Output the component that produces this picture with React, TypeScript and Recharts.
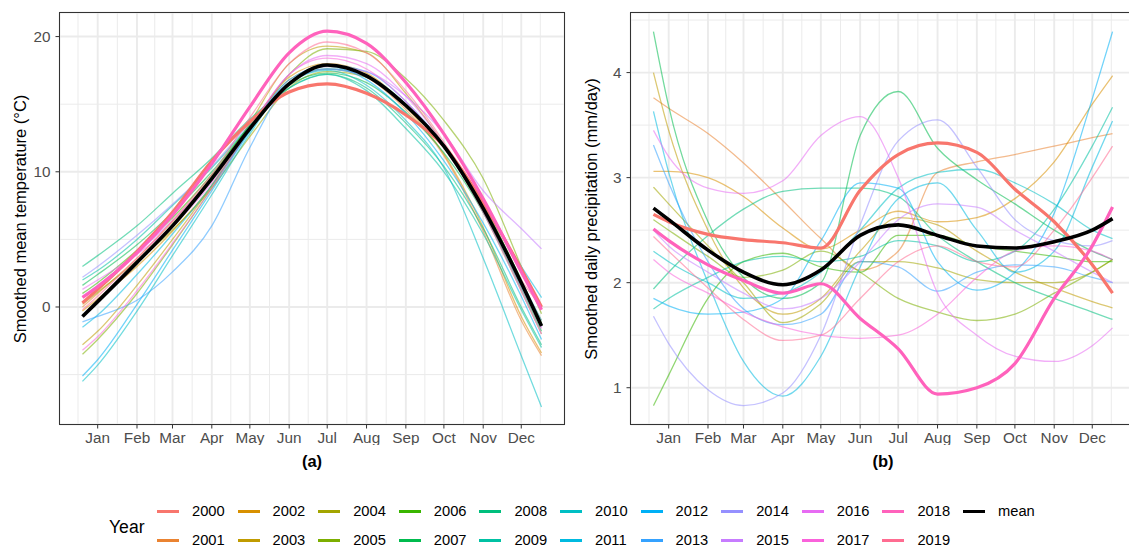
import { LineChart, Line, XAxis, YAxis, CartesianGrid } from 'recharts';

const FONT = '"Liberation Sans", Arial, Helvetica, sans-serif';

// day of year where the smoothed curves are read
const days = [3, 15, 46, 74, 105, 135, 166, 196, 227, 258, 288, 319, 349, 365];
const monthDays = [15, 46, 74, 105, 135, 166, 196, 227, 258, 288, 319, 349];
const monthNames = ['Jan', 'Feb', 'Mar', 'Apr', 'May', 'Jun', 'Jul', 'Aug', 'Sep', 'Oct', 'Nov', 'Dec'];
const minorDays = [-0.5, 30.5, 60, 89.5, 120, 150.5, 181, 211.5, 242.5, 273, 303.5, 334, 364];

const years = [
  '2000', '2001', '2002', '2003', '2004', '2005', '2006', '2007', '2008', '2009',
  '2010', '2011', '2012', '2013', '2014', '2015', '2016', '2017', '2018', '2019',
];
const yearColors = [
  '#F8766D', '#EA8331', '#D89000', '#C09B00', '#A3A500', '#7CAE00', '#39B600', '#00BB4E', '#00BF7D', '#00C1A3',
  '#00BFC4', '#00BAE0', '#00B0F6', '#35A2FF', '#9590FF', '#C77CFF', '#E76BF3', '#FA62DB', '#FF62BC', '#FF6C91',
];
const thickYears = ['2000', '2018'];

const tempTicks = [0, 10, 20];
const tempMinor = [-5, 5, 15];
const precTicks = [1, 2, 3, 4];
const precMinor = [1.5, 2.5, 3.5, 4.5];

// (a) smoothed mean temperature
const t2000 = [0.3, 1.3, 4.1, 7.0, 10.8, 13.7, 15.9, 16.5, 15.8, 14.2, 11.9, 7.7, 2.8, 0.0];
const t2001 = [0.0, 1.0, 3.6, 6.3, 9.6, 13.5, 16.8, 17.8, 17.0, 14.6, 11.2, 5.6, -1.0, -3.6];
const t2002 = [-0.3, 0.6, 3.0, 5.6, 9.0, 13.2, 17.0, 18.0, 17.3, 14.8, 11.3, 5.9, -0.7, -3.4];
const t2003 = [-2.8, -1.8, 1.6, 5.0, 9.0, 13.6, 18.0, 19.3, 18.8, 15.8, 12.0, 7.0, 1.2, -2.0];
const t2004 = [0.2, 1.1, 3.4, 5.7, 8.8, 12.6, 16.2, 17.4, 17.0, 15.0, 11.8, 7.3, 1.8, -1.0];
const t2005 = [-3.5, -2.4, 1.0, 4.6, 8.8, 13.2, 17.2, 19.1, 18.9, 16.9, 13.8, 9.5, 3.0, -0.5];
const t2006 = [1.0, 1.8, 4.2, 6.6, 9.8, 13.4, 16.6, 17.6, 17.0, 15.0, 12.0, 7.6, 2.0, -1.2];
const t2007 = [1.6, 2.4, 4.6, 7.0, 10.0, 13.4, 16.4, 17.3, 16.6, 14.4, 11.4, 7.0, 1.4, -1.8];
const t2008 = [3.0, 3.8, 6.0, 8.4, 11.0, 13.9, 16.2, 17.2, 16.2, 13.6, 10.4, 5.8, 0.0, -2.8];
const t2009 = [2.0, 2.7, 5.0, 7.5, 10.3, 13.4, 16.2, 17.2, 16.0, 13.2, 10.0, 5.4, -0.2, -3.0];
const t2010 = [-5.5, -4.3, -0.3, 3.8, 8.3, 12.8, 16.6, 17.5, 16.4, 13.8, 10.3, 3.6, -3.6, -7.4];
const t2011 = [-1.5, -0.6, 2.4, 5.4, 9.0, 13.0, 16.6, 17.6, 17.1, 15.0, 12.0, 7.6, 3.0, 0.7];
const t2012 = [-5.1, -3.9, 0.2, 4.2, 8.6, 13.0, 16.8, 17.8, 16.8, 14.3, 10.8, 6.2, 0.8, -2.4];
const t2013 = [-1.1, -0.7, 0.5, 2.6, 6.0, 11.8, 16.6, 17.9, 17.4, 15.2, 11.9, 7.3, 1.9, -1.0];
const t2014 = [2.2, 3.0, 5.3, 7.6, 10.4, 13.6, 16.6, 17.6, 17.0, 15.0, 12.0, 7.4, 1.5, -1.5];
const t2015 = [0.8, 1.6, 4.0, 6.4, 9.5, 13.2, 16.6, 17.8, 17.4, 15.6, 12.8, 8.6, 5.8, 4.3];
const t2016 = [1.3, 2.0, 3.9, 6.0, 9.2, 13.3, 17.2, 18.6, 18.0, 15.6, 12.0, 7.0, 1.2, -2.0];
const t2017 = [-3.2, -2.2, 1.2, 4.7, 8.8, 13.2, 17.2, 18.4, 17.6, 15.2, 11.8, 7.2, 1.6, -1.6];
const t2018 = [0.7, 1.5, 4.0, 6.8, 10.6, 14.8, 18.8, 20.4, 19.5, 16.6, 12.8, 8.0, 2.6, -0.2];
const t2019 = [-0.2, 0.8, 3.6, 6.4, 9.8, 14.0, 18.0, 19.6, 18.8, 16.0, 12.2, 7.4, 2.0, 0.0];
const tMean = [-0.7, 0.4, 3.3, 6.0, 9.5, 13.2, 16.5, 17.9, 17.1, 14.9, 11.9, 7.3, 1.8, -1.4];

// (b) smoothed daily precipitation
const p2000 = [2.65, 2.58, 2.46, 2.41, 2.38, 2.33, 2.88, 3.22, 3.33, 3.24, 2.89, 2.58, 2.17, 1.9];
const p2001 = [3.76, 3.66, 3.42, 3.14, 2.78, 2.42, 2.12, 2.3, 3.05, 3.15, 3.22, 3.3, 3.38, 3.42];
const p2002 = [3.06, 3.06, 3.0, 2.82, 2.52, 2.32, 2.5, 2.68, 2.58, 2.62, 2.8, 3.15, 3.7, 3.97];
const p2003 = [4.0, 3.45, 2.5, 1.95, 1.7, 1.85, 2.3, 2.62, 2.55, 2.3, 2.1, 1.95, 1.82, 1.76];
const p2004 = [2.91, 2.75, 2.35, 2.0, 1.62, 1.8, 2.2, 2.2, 2.14, 2.03, 2.0, 2.0, 2.1, 2.22];
const p2005 = [2.6, 2.5, 2.25, 2.05, 2.12, 2.3, 2.1, 1.85, 1.72, 1.64, 1.7, 1.9, 2.1, 2.22];
const p2006 = [0.83, 1.12, 1.85, 2.2, 2.28, 2.15, 2.1, 2.45, 2.45, 2.35, 2.3, 2.25, 2.2, 2.2];
const p2007 = [4.39, 3.68, 2.58, 2.05, 1.85, 2.0, 3.4, 3.82, 3.28, 2.98, 2.75, 2.5, 2.3, 2.22];
const p2008 = [1.94, 2.1, 2.45, 2.7, 2.87, 2.9, 2.9, 2.82, 2.45, 2.2, 2.0, 1.85, 1.72, 1.65];
const p2009 = [1.75, 1.85, 2.05, 2.2, 2.25, 2.2, 2.25, 2.4, 2.35, 2.2, 2.3, 2.7, 3.3, 3.67];
const p2010 = [2.3, 2.2, 2.0, 1.85, 1.9, 2.1, 2.5, 2.9, 3.05, 3.08, 2.95, 2.75, 2.5, 2.42];
const p2011 = [3.63, 3.05, 2.0, 1.25, 0.92, 1.3, 2.15, 2.8, 2.95, 2.5, 2.1, 2.3, 3.1, 3.54];
const p2012 = [1.85, 1.78, 1.7, 1.72, 1.85, 2.4, 2.95, 2.9, 2.2, 1.93, 2.1, 2.66, 3.75, 4.39];
const p2013 = [3.31, 2.95, 2.2, 1.75, 1.6, 1.7, 2.2, 2.15, 1.92, 2.1, 2.17, 2.15, 2.05, 2.0];
const p2014 = [1.68, 1.42, 0.98, 0.83, 0.95, 1.5, 2.55, 3.35, 3.55, 3.1, 2.6, 2.4, 2.35, 2.4];
const p2015 = [2.5, 2.35, 2.1, 1.9, 1.75, 1.85, 2.2, 2.6, 2.75, 2.72, 2.5, 2.3, 2.1, 2.0];
const p2016 = [3.45, 3.2, 2.9, 2.85, 2.97, 3.4, 3.58, 3.0, 1.9, 1.5, 1.3, 1.25, 1.4, 1.57];
const p2017 = [2.22, 2.1, 1.9, 1.72, 1.58, 1.5, 1.47, 1.5, 1.7, 2.05, 2.3, 2.35, 2.3, 2.22];
const p2018 = [2.51, 2.4, 2.17, 2.02, 1.9, 1.99, 1.66, 1.37, 0.94, 1.0, 1.23, 1.85, 2.35, 2.72];
const p2019 = [2.44, 2.3, 1.95, 1.65, 1.45, 1.5, 1.85, 2.2, 2.35, 2.2, 2.15, 2.5, 3.0, 3.3];
const pMean = [2.71, 2.6, 2.31, 2.1, 1.98, 2.12, 2.45, 2.55, 2.45, 2.35, 2.33, 2.39, 2.5, 2.61];

const tempSeries = [
  t2000, t2001, t2002, t2003, t2004, t2005, t2006, t2007, t2008, t2009,
  t2010, t2011, t2012, t2013, t2014, t2015, t2016, t2017, t2018, t2019,
];
const precSeries = [
  p2000, p2001, p2002, p2003, p2004, p2005, p2006, p2007, p2008, p2009,
  p2010, p2011, p2012, p2013, p2014, p2015, p2016, p2017, p2018, p2019,
];

function buildRows(series: number[][], mean: number[]) {
  return days.map((d, i) => {
    const row: Record<string, number> = { day: d, mean: mean[i] };
    years.forEach((y, k) => {
      row[y] = series[k][i];
    });
    return row;
  });
}

const tempRows = buildRows(tempSeries, tMean);
const precRows = buildRows(precSeries, pMean);

const CHART_W = 570;
const CHART_H = 445;
const PLOT_TOP = 12.5;
const PLOT_BOTTOM = 424.5;
const AXIS_W = 59.5;
const X_DOMAIN: [number, number] = [-15.1, 383.1];

const colorOf = (y: string) => yearColors[years.indexOf(y)];

interface PanelProps {
  left: number;
  rows: Record<string, number>[];
  yDomain: [number, number];
  yTicks: number[];
  yMinor: number[];
  yLabel: string;
  tag: string;
}

function Panel({ left, rows, yDomain, yTicks, yMinor, yLabel, tag }: PanelProps) {
  const thin = years.filter(y => !thickYears.includes(y));
  const tickStyle = { fontSize: 15.3, fill: '#4D4D4D', fontFamily: FONT };
  return (
    <>
      <div style={{ position: 'absolute', left, top: 0 }}>
        <LineChart
          width={CHART_W}
          height={CHART_H}
          data={rows}
          margin={{ top: PLOT_TOP, right: CHART_W - 564.5, bottom: 0, left: 0 }}
        >
          <CartesianGrid stroke="#EBEBEB" strokeWidth={1} horizontalValues={yMinor} verticalValues={minorDays} />
          <CartesianGrid stroke="#EBEBEB" strokeWidth={1.9} />
          <XAxis
            dataKey="day"
            type="number"
            domain={X_DOMAIN}
            ticks={monthDays}
            interval={0}
            allowDataOverflow
            tickFormatter={(v: number) => monthNames[monthDays.indexOf(v)]}
            axisLine={false}
            tickLine={{ stroke: '#333333' }}
            tickSize={4}
            tickMargin={3.5}
            tick={tickStyle}
            height={CHART_H - PLOT_BOTTOM}
          />
          <YAxis
            type="number"
            domain={yDomain}
            ticks={yTicks}
            interval={0}
            allowDataOverflow
            axisLine={false}
            tickLine={{ stroke: '#333333' }}
            tickSize={4}
            tickMargin={5}
            tick={tickStyle}
            width={AXIS_W}
          />
          {thin.map(y => (
            <Line
              key={y}
              dataKey={y}
              type="monotone"
              stroke={colorOf(y)}
              strokeOpacity={0.55}
              strokeWidth={1.3}
              dot={false}
              activeDot={false}
              isAnimationActive={false}
            />
          ))}
          {thickYears.map(y => (
            <Line
              key={y}
              dataKey={y}
              type="monotone"
              stroke={colorOf(y)}
              strokeWidth={3.2}
              dot={false}
              activeDot={false}
              isAnimationActive={false}
            />
          ))}
          <Line
            dataKey="mean"
            type="monotone"
            stroke="#000000"
            strokeWidth={3.6}
            dot={false}
            activeDot={false}
            isAnimationActive={false}
          />
        </LineChart>
      </div>
      {/* panel border */}
      <div style={{
        position: 'absolute',
        left: left + 59,
        top: 12,
        width: 506,
        height: 413,
        border: '1px solid #333333',
        boxSizing: 'border-box',
        pointerEvents: 'none',
      }} />
      <div style={{
        position: 'absolute',
        left: left + 20,
        top: 218.5,
        transform: 'translate(-50%, -50%) rotate(-90deg)',
        whiteSpace: 'nowrap',
        fontSize: 16.5,
        color: '#000',
      }}>
        {yLabel}
      </div>
      <div style={{
        position: 'absolute',
        left: left + 312,
        top: 461,
        transform: 'translate(-50%, -50%)',
        fontSize: 16.5,
        fontWeight: 700,
        color: '#000',
      }}>
        {tag}
      </div>
    </>
  );
}

function YearLegend() {
  const items = [...years.map((y, i) => ({ label: y, color: yearColors[i] })), { label: 'mean', color: '#000000' }];
  return (
    <>
      <div style={{ position: 'absolute', left: 109, top: 527, transform: 'translateY(-50%)', fontSize: 17.6, color: '#000' }}>
        Year
      </div>
      {items.map((it, i) => {
        const col = Math.floor(i / 2);
        const row = i % 2;
        const x = 157 + col * 80.6;
        const y = row === 0 ? 511 : 540;
        return (
          <div key={it.label}>
            <div style={{ position: 'absolute', left: x, top: y - 1.5, width: 22, height: 3, background: it.color }} />
            <div style={{ position: 'absolute', left: x + 35, top: y, transform: 'translateY(-50%)', fontSize: 14.7, color: '#000' }}>
              {it.label}
            </div>
          </div>
        );
      })}
    </>
  );
}

export default function App() {
  return (
    <div style={{
      position: 'absolute',
      left: 0,
      top: 0,
      width: 1129,
      height: 550,
      overflow: 'hidden',
      background: '#fff',
      fontFamily: FONT,
    }}>
      <Panel
        left={0}
        rows={tempRows}
        yDomain={[-8.69, 21.78]}
        yTicks={tempTicks}
        yMinor={tempMinor}
        yLabel="Smoothed mean temperature (°C)"
        tag="(a)"
      />
      <Panel
        left={571}
        rows={precRows}
        yDomain={[0.65, 4.572]}
        yTicks={precTicks}
        yMinor={precMinor}
        yLabel="Smoothed daily precipitation (mm/day)"
        tag="(b)"
      />
      <YearLegend />
    </div>
  );
}
